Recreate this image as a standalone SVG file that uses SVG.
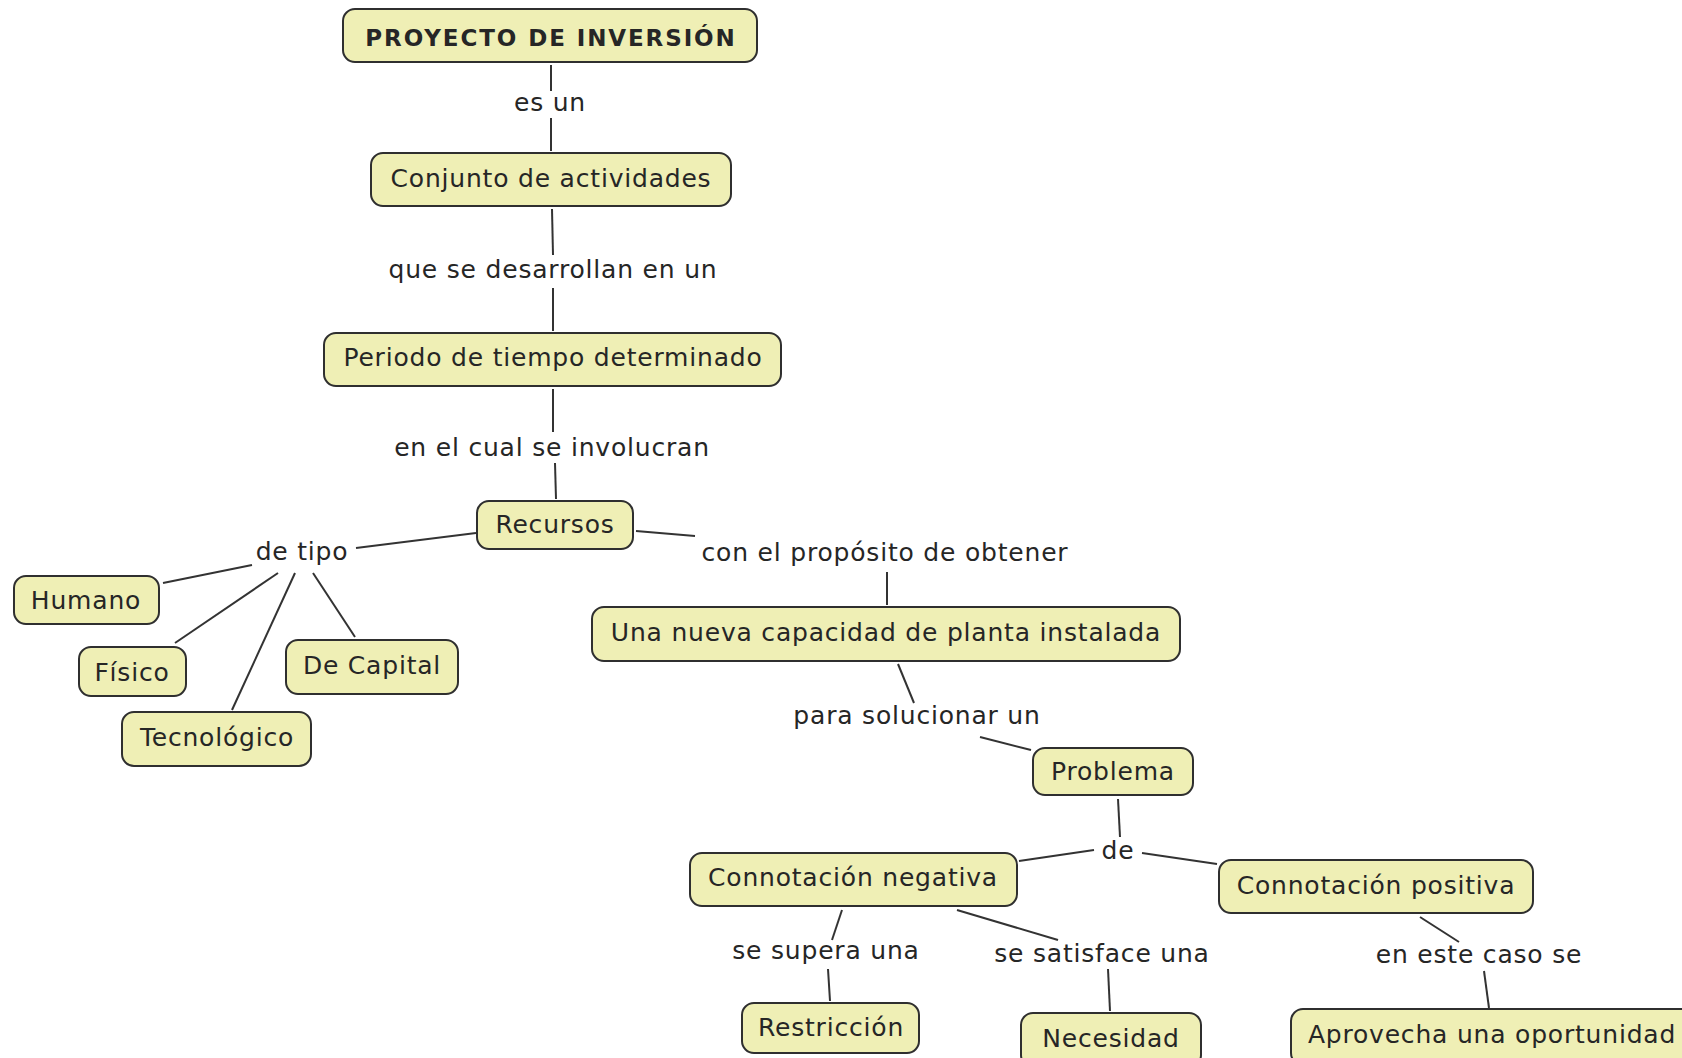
<svg xmlns="http://www.w3.org/2000/svg" width="1682" height="1058" viewBox="0 0 1682 1058">
<style>
.n rect{fill:#EFEFB5;stroke:#2f2f2f;stroke-width:2}
.n text,.lbl{font-family:"DejaVu Sans",Verdana,sans-serif;font-size:25px;letter-spacing:0.8px;fill:#262626;text-anchor:middle}
.title{font-weight:bold;font-size:23px !important;letter-spacing:1.9px !important}
#connectors line{stroke:#333;stroke-width:2;fill:none}
</style>
<rect x="0" y="0" width="1682" height="1058" fill="#FFFFFF"/>
<g id="connectors">
<line x1="551" y1="65" x2="551" y2="91"/>
<line x1="551" y1="118" x2="551" y2="151"/>
<line x1="552" y1="209" x2="553" y2="255"/>
<line x1="553" y1="288" x2="553" y2="331"/>
<line x1="553" y1="389" x2="553" y2="432"/>
<line x1="555" y1="463" x2="556" y2="499"/>
<line x1="356" y1="548" x2="476" y2="533"/>
<line x1="252" y1="565" x2="163" y2="583"/>
<line x1="278" y1="573" x2="175" y2="643"/>
<line x1="295" y1="573" x2="232" y2="710"/>
<line x1="313" y1="573" x2="355" y2="637"/>
<line x1="636" y1="531" x2="695" y2="536"/>
<line x1="887" y1="572" x2="887" y2="605"/>
<line x1="898" y1="664" x2="914" y2="703"/>
<line x1="980" y1="737" x2="1031" y2="750"/>
<line x1="1118" y1="799" x2="1120" y2="837"/>
<line x1="1094" y1="850" x2="1019" y2="861"/>
<line x1="1142" y1="853" x2="1217" y2="864"/>
<line x1="842" y1="910" x2="832" y2="940"/>
<line x1="828" y1="969" x2="830" y2="1001"/>
<line x1="957" y1="910" x2="1058" y2="940"/>
<line x1="1108" y1="969" x2="1110" y2="1011"/>
<line x1="1420" y1="917" x2="1459" y2="942"/>
<line x1="1484" y1="971" x2="1489" y2="1008"/>
</g>
<g id="labels">
<text class="lbl" x="550" y="111">es un</text>
<text class="lbl" x="553" y="278">que se desarrollan en un</text>
<text class="lbl" x="552" y="456">en el cual se involucran</text>
<text class="lbl" x="302" y="560">de tipo</text>
<text class="lbl" x="885" y="561">con el propósito de obtener</text>
<text class="lbl" x="917" y="724">para solucionar un</text>
<text class="lbl" x="1118" y="859">de</text>
<text class="lbl" x="826" y="959">se supera una</text>
<text class="lbl" x="1102" y="962">se satisface una</text>
<text class="lbl" x="1479" y="963">en este caso se</text>
</g>
<g id="n-proyecto" class="n"><rect x="343" y="9" width="414" height="53" rx="12"/><text class="title" x="551" y="46">PROYECTO DE INVERSIÓN</text></g>
<g id="n-conjunto" class="n"><rect x="371" y="153" width="360" height="53" rx="12"/><text x="551" y="187">Conjunto de actividades</text></g>
<g id="n-periodo" class="n"><rect x="324" y="333" width="457" height="53" rx="12"/><text x="553" y="366">Periodo de tiempo determinado</text></g>
<g id="n-recursos" class="n"><rect x="477" y="501" width="156" height="48" rx="12"/><text x="555" y="533">Recursos</text></g>
<g id="n-humano" class="n"><rect x="14" y="576" width="145" height="48" rx="12"/><text x="86" y="609">Humano</text></g>
<g id="n-fisico" class="n"><rect x="79" y="647" width="107" height="49" rx="12"/><text x="132" y="681">Físico</text></g>
<g id="n-tecnologico" class="n"><rect x="122" y="712" width="189" height="54" rx="12"/><text x="217" y="746">Tecnológico</text></g>
<g id="n-capital" class="n"><rect x="286" y="640" width="172" height="54" rx="12"/><text x="372" y="674">De Capital</text></g>
<g id="n-capacidad" class="n"><rect x="592" y="607" width="588" height="54" rx="12"/><text x="886" y="641">Una nueva capacidad de planta instalada</text></g>
<g id="n-problema" class="n"><rect x="1033" y="748" width="160" height="47" rx="12"/><text x="1113" y="780">Problema</text></g>
<g id="n-negativa" class="n"><rect x="690" y="853" width="327" height="53" rx="12"/><text x="853" y="886">Connotación negativa</text></g>
<g id="n-positiva" class="n"><rect x="1219" y="860" width="314" height="53" rx="12"/><text x="1376" y="894">Connotación positiva</text></g>
<g id="n-restriccion" class="n"><rect x="742" y="1003" width="177" height="50" rx="12"/><text x="831" y="1036">Restricción</text></g>
<g id="n-necesidad" class="n"><rect x="1021" y="1013" width="180" height="54" rx="12"/><text x="1111" y="1047">Necesidad</text></g>
<g id="n-aprovecha" class="n"><rect x="1291" y="1009" width="410" height="56" rx="12"/><text x="1492" y="1043">Aprovecha una oportunidad</text></g>
</svg>
